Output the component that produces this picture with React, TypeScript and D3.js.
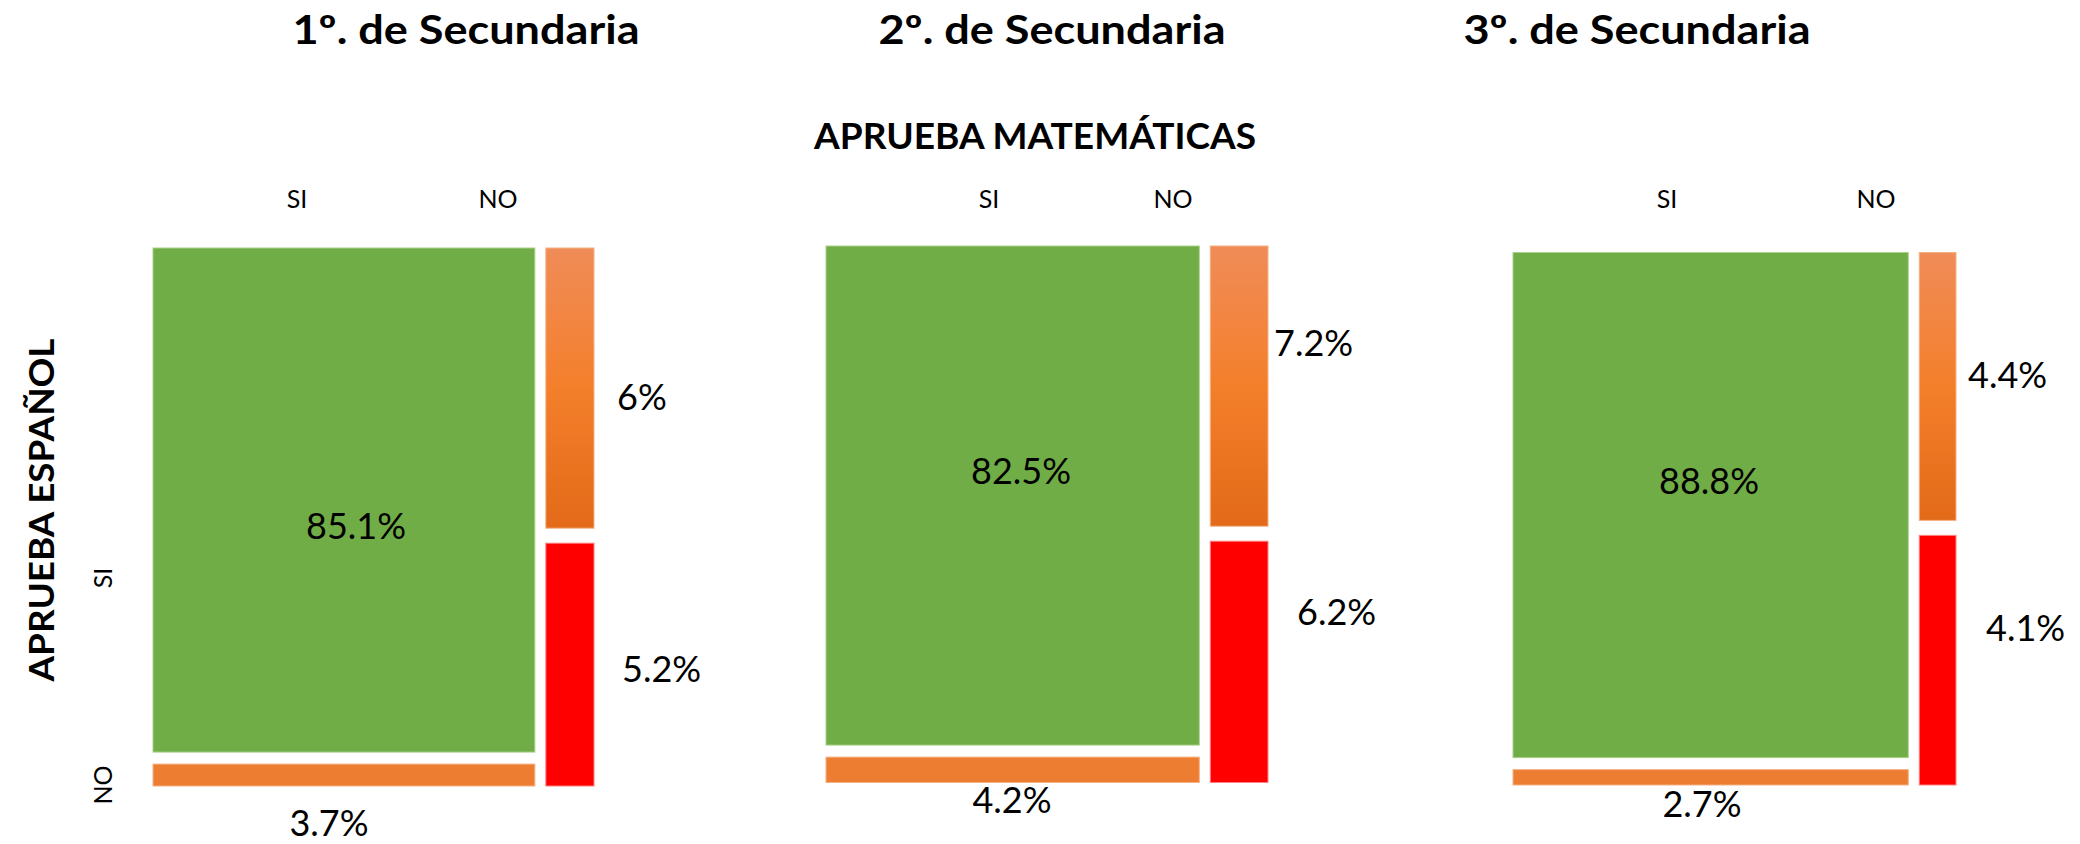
import React from "react";
import * as d3 from "d3";

// ---- data ----
const grades = ["1º. de Secundaria", "2º. de Secundaria", "3º. de Secundaria"];
const bothPass = [85.1, 82.5, 88.8]; // Matemáticas SI, Español SI
const mathPassSpanishFail = [3.7, 4.2, 2.7]; // Matemáticas SI, Español NO
const mathFailSpanishPass = [6, 7.2, 4.4]; // Matemáticas NO, Español SI
const bothFail = [5.2, 6.2, 4.1]; // Matemáticas NO, Español NO
const mathTicks = ["SI", "NO"];
const spanishTicks = ["SI", "NO"];
const mathTitle = "APRUEBA MATEMÁTICAS";
const spanishTitle = "APRUEBA ESPAÑOL";

// ---- layout ----
const W = 2080;
const H = 844;
const panelX0 = [153, 826, 1513];
const panelX1 = [594, 1268, 1956];
const panelY0 = [248, 246, 252.5];
const panelY1 = [786, 782.5, 785];
const gapX = 11;
const gapYLeft = 12;
const gapYRight = 15;
const titleX = [466, 1052, 1637];
const titleY = 44;
const tickSiX = [297, 989, 1667];
const tickNoX = [498, 1173, 1876];
const tickY = 208;
const bigLabelPos = [[356, 539], [1021, 484], [1709, 494]];
const bottomLabelPos = [[329, 836], [1012, 813], [1702, 817]];
const gradLabelPos = [[617, 410], [1274, 356], [1968, 388]];
const redLabelPos = [[622, 682], [1297, 625], [1986, 641]];

const FONT = "Lato, 'Open Sans', 'Liberation Sans', sans-serif";
const GREEN = "#70AD47";
const ORANGE = "#ED7D31";
const RED = "#FF0000";

const fmt = (v: number) => `${v}%`;

export default function App() {
  const panels = grades.map((g, i) => {
    const total = bothPass[i] + mathPassSpanishFail[i] + mathFailSpanishPass[i] + bothFail[i];
    const colSi = bothPass[i] + mathPassSpanishFail[i];
    const colNo = mathFailSpanishPass[i] + bothFail[i];
    const x = d3.scaleLinear().domain([0, total]).range([panelX0[i], panelX1[i] - gapX]);
    const xSiEnd = x(colSi);
    const xNoStart = xSiEnd + gapX;
    const xNoEnd = x(total) + gapX;
    const yL = d3.scaleLinear().domain([0, colSi]).range([panelY0[i], panelY1[i] - gapYLeft]);
    const yR = d3.scaleLinear().domain([0, colNo]).range([panelY0[i], panelY1[i] - gapYRight]);
    return {
      green: { x: x(0), y: yL(0), w: xSiEnd - x(0), h: yL(bothPass[i]) - yL(0) },
      orangeBar: {
        x: x(0),
        y: yL(bothPass[i]) + gapYLeft,
        w: xSiEnd - x(0),
        h: yL(colSi) - yL(bothPass[i]),
      },
      grad: { x: xNoStart, y: yR(0), w: xNoEnd - xNoStart, h: yR(mathFailSpanishPass[i]) - yR(0) },
      red: {
        x: xNoStart,
        y: yR(mathFailSpanishPass[i]) + gapYRight,
        w: xNoEnd - xNoStart,
        h: yR(colNo) - yR(mathFailSpanishPass[i]),
      },
    };
  });

  const valueStyle = { fontFamily: FONT, fontSize: 36, fill: "#000" } as const;
  const tickStyle = { fontFamily: FONT, fontSize: 25, fill: "#000" } as const;

  return (
    <svg
      width={W}
      height={H}
      viewBox={`0 0 ${W} ${H}`}
      style={{ position: "absolute", left: 0, top: 0, display: "block", background: "#fff" }}
    >
      <defs>
        <linearGradient id="orangeGrad" x1="0" y1="0" x2="0" y2="1">
          <stop offset="0" stopColor="#F08C58" />
          <stop offset="0.5" stopColor="#F47F2B" />
          <stop offset="1" stopColor="#E26A18" />
        </linearGradient>
      </defs>
      <rect x={0} y={0} width={W} height={H} fill="#fff" />

      {grades.map((g, i) => (
        <text
          key={"t" + i}
          x={titleX[i]}
          y={titleY}
          textAnchor="middle"
          fontFamily={FONT}
          fontWeight={700}
          fontSize={40}
          textLength={347}
          lengthAdjust="spacingAndGlyphs"
        >
          {g}
        </text>
      ))}

      <text
        x={1035}
        y={149}
        textAnchor="middle"
        fontFamily={FONT}
        fontWeight={700}
        fontSize={36}
        textLength={442}
        lengthAdjust="spacingAndGlyphs"
      >
        {mathTitle}
      </text>

      <text
        transform={`translate(54,510) rotate(-90)`}
        textAnchor="middle"
        fontFamily={FONT}
        fontWeight={700}
        fontSize={34}
        textLength={343}
        lengthAdjust="spacingAndGlyphs"
      >
        {spanishTitle}
      </text>

      <text transform={`translate(112,578) rotate(-90)`} textAnchor="middle" style={tickStyle}>
        {spanishTicks[0]}
      </text>
      <text transform={`translate(112,785) rotate(-90)`} textAnchor="middle" style={tickStyle}>
        {spanishTicks[1]}
      </text>

      {panels.map((p, i) => (
        <g key={"p" + i}>
          <text x={tickSiX[i]} y={tickY} textAnchor="middle" style={tickStyle}>
            {mathTicks[0]}
          </text>
          <text x={tickNoX[i]} y={tickY} textAnchor="middle" style={tickStyle}>
            {mathTicks[1]}
          </text>

          <rect x={p.green.x} y={p.green.y} width={p.green.w} height={p.green.h} fill={GREEN} stroke="#A9D18E" strokeWidth={1} />
          <rect x={p.orangeBar.x} y={p.orangeBar.y} width={p.orangeBar.w} height={p.orangeBar.h} fill={ORANGE} stroke="#F4B183" strokeWidth={1} />
          <rect x={p.grad.x} y={p.grad.y} width={p.grad.w} height={p.grad.h} fill="url(#orangeGrad)" stroke="#F4B183" strokeWidth={1} />
          <rect x={p.red.x} y={p.red.y} width={p.red.w} height={p.red.h} fill={RED} stroke="#FF8080" strokeWidth={1} />

          <text x={bigLabelPos[i][0]} y={bigLabelPos[i][1]} textAnchor="middle" style={valueStyle}>
            {fmt(bothPass[i])}
          </text>
          <text x={bottomLabelPos[i][0]} y={bottomLabelPos[i][1]} textAnchor="middle" style={valueStyle}>
            {fmt(mathPassSpanishFail[i])}
          </text>
          <text x={gradLabelPos[i][0]} y={gradLabelPos[i][1]} textAnchor="start" style={valueStyle}>
            {fmt(mathFailSpanishPass[i])}
          </text>
          <text x={redLabelPos[i][0]} y={redLabelPos[i][1]} textAnchor="start" style={valueStyle}>
            {fmt(bothFail[i])}
          </text>
        </g>
      ))}
    </svg>
  );
}
